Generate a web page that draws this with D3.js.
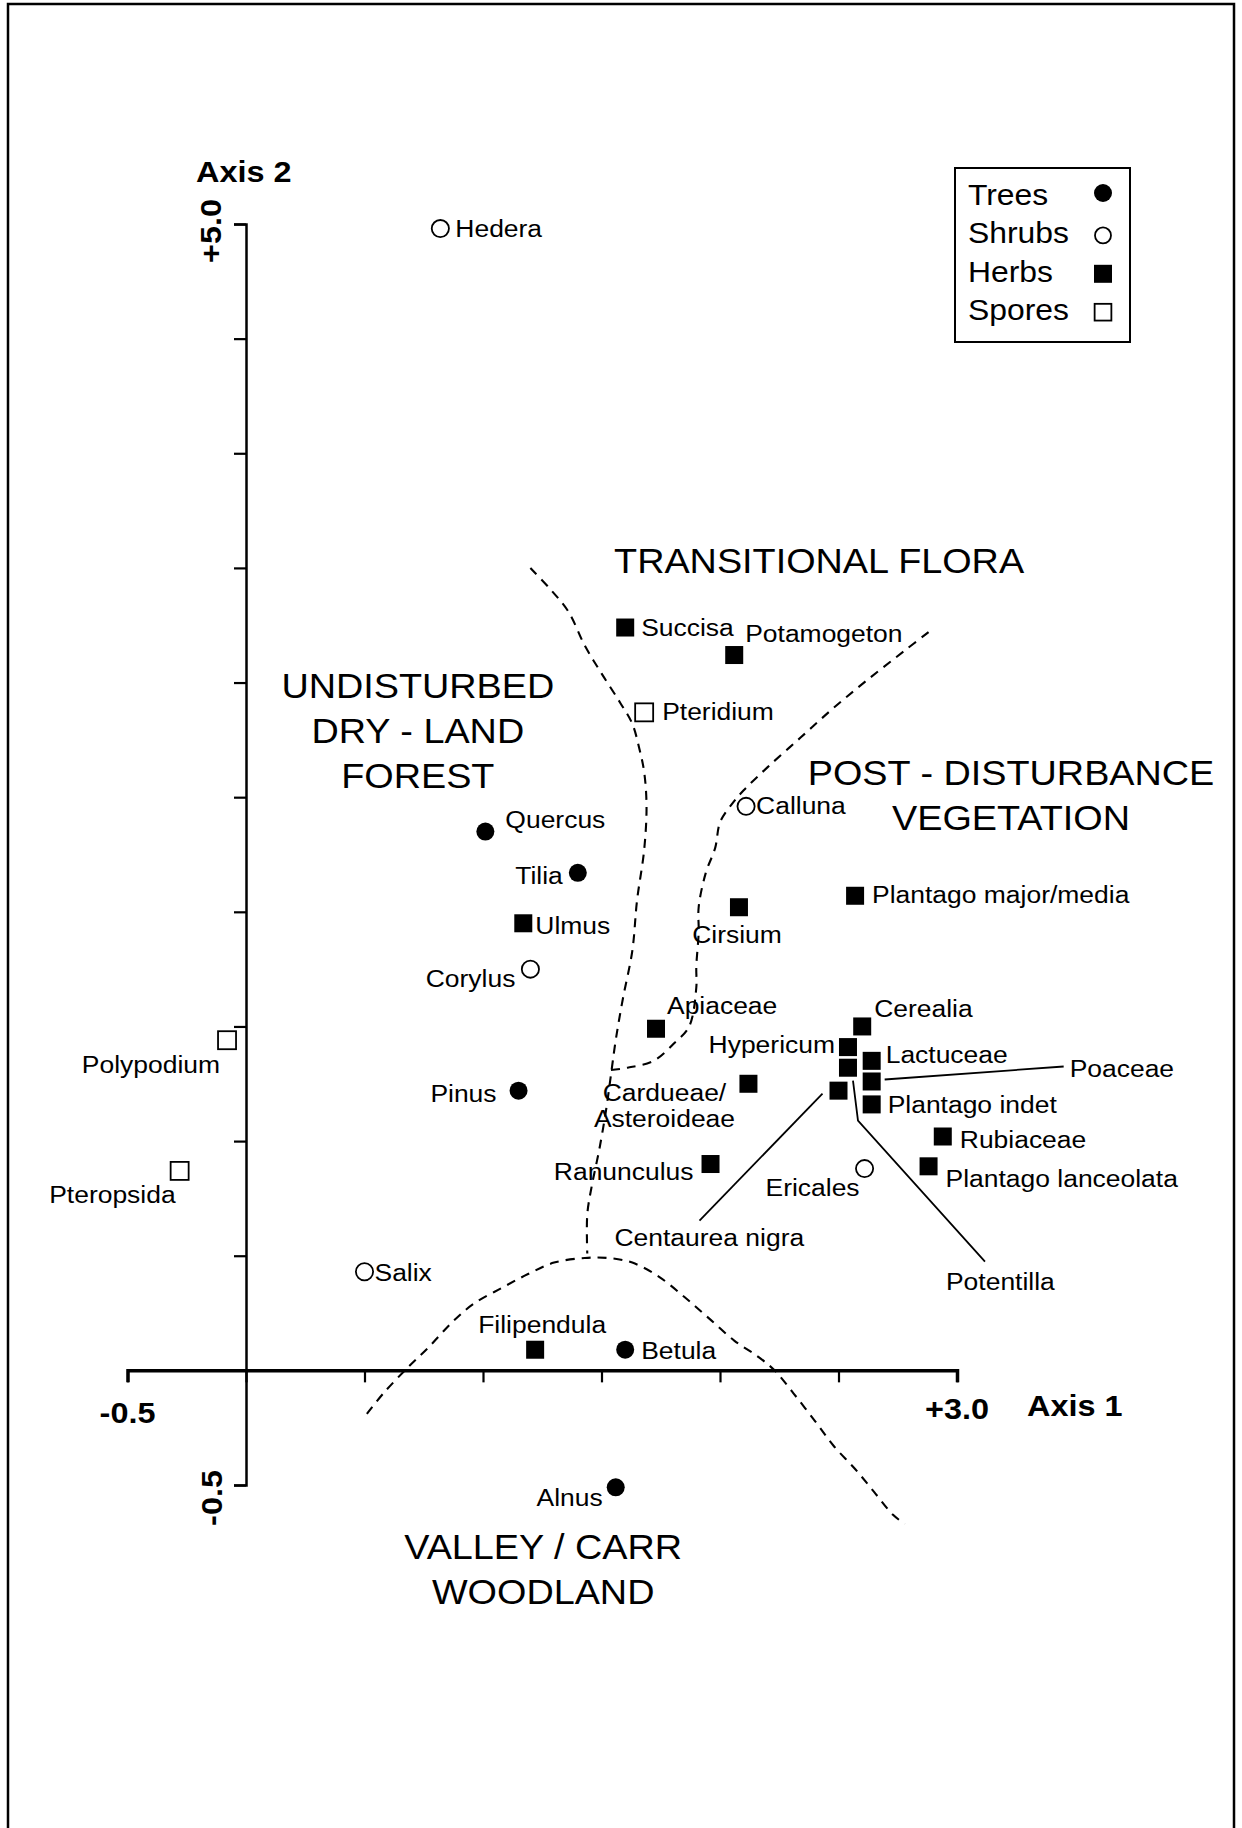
<!DOCTYPE html>
<html>
<head>
<meta charset="utf-8">
<script src="https://cdn.jsdelivr.net/npm/d3@7"></script>
<style>
  html, body { margin: 0; padding: 0; background: #fff; }
  svg { display: block; }
  text { font-family: "Liberation Sans", Arial, Helvetica, sans-serif; fill: #000; }
</style>
</head>
<body>
<svg id="chart" width="1242" height="1828"></svg>
<script>
// ---- Ordination scores of the pollen / spore taxa ----
const taxa = [
  "Hedera", "Quercus", "Tilia", "Ulmus", "Corylus", "Pinus", "Polypodium", "Pteropsida",
  "Salix", "Filipendula", "Betula", "Alnus", "Succisa", "Potamogeton", "Pteridium", "Calluna",
  "Cirsium", "Plantago major/media", "Apiaceae", "Cerealia", "Hypericum", "Lactuceae",
  "Potentilla", "Poaceae", "Centaurea nigra", "Plantago indet", "Rubiaceae",
  "Plantago lanceolata", "Ericales", "Ranunculus", "Cardueae/Asteroideae"
];
const axis1Scores = [
  0.82, 1.01, 1.40, 1.17, 1.20, 1.15, -0.08, -0.28,
  0.50, 1.22, 1.60, 1.56, 1.60, 2.06, 1.68, 2.11,
  2.08, 2.57, 1.73, 2.60, 2.54, 2.64,
  2.54, 2.64, 2.50, 2.64, 2.94,
  2.88, 2.61, 1.96, 2.12
];
const axis2Scores = [
  4.98, 2.35, 2.17, 1.95, 1.75, 1.22, 1.44, 0.87,
  0.43, 0.09, 0.09, -0.51, 3.24, 3.12, 2.87, 2.46,
  2.02, 2.07, 1.49, 1.50, 1.41, 1.35,
  1.32, 1.26, 1.22, 1.16, 1.02,
  0.89, 0.88, 0.90, 1.25
];
const taxonGroup = [
  "Shrubs", "Trees", "Trees", "Herbs", "Shrubs", "Trees", "Spores", "Spores",
  "Shrubs", "Herbs", "Trees", "Trees", "Herbs", "Herbs", "Spores", "Shrubs",
  "Herbs", "Herbs", "Herbs", "Herbs", "Herbs", "Herbs",
  "Herbs", "Herbs", "Herbs", "Herbs", "Herbs",
  "Herbs", "Shrubs", "Herbs", "Herbs"
];
const groupNames = ["Trees", "Shrubs", "Herbs", "Spores"];

// ---- Axes ----
const xTickValues = [-0.5, 0, 0.5, 1.0, 1.5, 2.0, 2.5, 3.0];
const yTickValues = [-0.5, 0, 0.5, 1.0, 1.5, 2.0, 2.5, 3.0, 3.5, 4.0, 4.5, 5.0];
const xEndLabels = ["-0.5", "+3.0"];
const yEndLabels = ["-0.5", "+5.0"];
const axisTitles = ["Axis 1", "Axis 2"];

// ---- Vegetation zone boundaries (axis units) ----
const boundaryForestEdge = [
  [1.20, 3.50], [1.29, 3.40], [1.36, 3.31], [1.43, 3.16], [1.50, 3.04], [1.58, 2.91],
  [1.63, 2.82], [1.66, 2.71], [1.68, 2.61], [1.69, 2.46], [1.68, 2.27], [1.65, 2.05],
  [1.63, 1.83], [1.59, 1.62], [1.56, 1.44], [1.54, 1.29], [1.52, 1.14], [1.49, 0.96],
  [1.46, 0.81], [1.44, 0.68], [1.44, 0.51]
];
const boundaryDisturbance = [
  [2.88, 3.22], [2.78, 3.14], [2.62, 3.01], [2.48, 2.89], [2.34, 2.76], [2.20, 2.63],
  [2.10, 2.53], [2.05, 2.47], [2.00, 2.39], [1.98, 2.28], [1.94, 2.17], [1.91, 2.02],
  [1.91, 1.91], [1.90, 1.76], [1.90, 1.67], [1.87, 1.50], [1.81, 1.43], [1.72, 1.35],
  [1.61, 1.32], [1.54, 1.31]
];
const boundaryValley = [
  [0.51, -0.19], [0.58, -0.10], [0.68, 0.01], [0.77, 0.10], [0.87, 0.21], [0.96, 0.29],
  [1.08, 0.36], [1.19, 0.42], [1.30, 0.47], [1.43, 0.49], [1.53, 0.49], [1.63, 0.47],
  [1.74, 0.41], [1.85, 0.32], [1.95, 0.23], [2.06, 0.13], [2.16, 0.06], [2.23, 0.00],
  [2.31, -0.10], [2.40, -0.22], [2.48, -0.33], [2.57, -0.43], [2.65, -0.53],
  [2.73, -0.63], [2.78, -0.67]
];
const zoneNames = [
  ["UNDISTURBED", "DRY - LAND", "FOREST"],
  ["TRANSITIONAL FLORA"],
  ["POST - DISTURBANCE", "VEGETATION"],
  ["VALLEY / CARR", "WOODLAND"]
];

// ---- Layout ----
const W = 1242, H = 1828;
const SX = 1.08;                       // slight horizontal stretch of the typeface
const FONT_LABEL = 24.5, FONT_ZONE = 35, FONT_LEGEND = 29.5, FONT_AXIS = 30;

// zone heading anchors, in axis units
const zoneAnchor = [[0.725, 2.933], [2.418, 3.478], [3.228, 2.551], [1.254, -0.823]];
const zoneLineGap = 45;

// label placement relative to each marker (px)
const labelPlace = {
  "Hedera": [15, 8, "start"],
  "Quercus": [20, -4, "start"],
  "Tilia": [-15, 11, "end"],
  "Ulmus": [12, 11, "start"],
  "Corylus": [-15, 18, "end"],
  "Pinus": [-22, 11, "end"],
  "Polypodium": [-7, 33, "end"],
  "Pteropsida": [-4, 32, "end"],
  "Salix": [10, 9, "start"],
  "Filipendula": [7, -17, "middle"],
  "Betula": [16, 9, "start"],
  "Alnus": [-13, 19, "end"],
  "Succisa": [16, 8, "start"],
  "Potamogeton": [11, -13, "start"],
  "Pteridium": [18, 8, "start"],
  "Calluna": [10, 8, "start"],
  "Cirsium": [-2, 36, "middle"],
  "Plantago major/media": [17, 7, "start"],
  "Apiaceae": [11, -15, "start"],
  "Cerealia": [12, -9, "start"],
  "Hypericum": [-13, 6, "end"],
  "Lactuceae": [14, 2, "start"],
  "Potentilla": [98, 222, "start"],
  "Poaceae": [198, -4, "start"],
  "Centaurea nigra": [-224, 155, "start"],
  "Plantago indet": [16, 9, "start"],
  "Rubiaceae": [17, 11, "start"],
  "Plantago lanceolata": [17, 21, "start"],
  "Ericales": [-5, 27, "end"],
  "Ranunculus": [-17, 16, "end"],
  "Cardueae/Asteroideae": [-84, 17, "middle"]
};
const labelLines = { "Cardueae/Asteroideae": ["Cardueae/", "Asteroideae"] };
// leader lines drawn from crowded markers to their labels (px from marker)
const leaders = {
  "Poaceae": [[13, -2], [192, -15]],
  "Centaurea nigra": [[-16, 3], [-139, 130]],
  "Potentilla": [[5, 13], [10, 53], [137, 194]]
};

const svg = d3.select("#chart").attr("viewBox", `0 0 ${W} ${H}`);
svg.append("rect").attr("width", W).attr("height", H).attr("fill", "#fff");

// outer frame (open at the foot of the page)
svg.append("path")
  .attr("d", `M8,${H + 10}V4H1234V${H + 10}`)
  .attr("fill", "none").attr("stroke", "#000").attr("stroke-width", 2.5);

const x = d3.scaleLinear().domain([-0.5, 3.0]).range([127.5, 957]);
const y = d3.scaleLinear().domain([-0.5, 5.0]).range([1485, 224]);

function addText(parent, px, py, str, size, anchor, opts = {}) {
  const rot = opts.rotate ? " rotate(-90)" : "";
  const t = parent.append("text")
    .attr("transform", `translate(${px},${py})${rot} scale(${SX},1)`)
    .attr("font-size", size)
    .attr("text-anchor", anchor)
    .text(str);
  if (opts.bold) t.attr("font-weight", "bold");
  return t;
}

// ---- axes ----
const xAxis = d3.axisBottom(x).tickValues(xTickValues).tickSize(12).tickSizeOuter(12).tickFormat("");
const yAxis = d3.axisLeft(y).tickValues(yTickValues).tickSize(12).tickSizeOuter(12).tickFormat("");

const gx = svg.append("g").attr("transform", `translate(0,${y(0)})`).call(xAxis);
gx.select(".domain").attr("stroke-width", 3.5);
gx.selectAll(".tick line").attr("stroke-width", 2.2);

const gy = svg.append("g").attr("transform", `translate(${x(0)},0)`).call(yAxis);
gy.select(".domain").attr("stroke-width", 2.5);
gy.selectAll(".tick line").attr("stroke-width", 2.2);

// end values and titles
addText(svg, x(-0.5), 1423, xEndLabels[0], FONT_AXIS, "middle", { bold: true });
addText(svg, x(3.0), 1419, xEndLabels[1], FONT_AXIS, "middle", { bold: true });
addText(svg, 1027, 1416, axisTitles[0], FONT_AXIS, "start", { bold: true });
addText(svg, 221, y(5.0) + 7, yEndLabels[1], FONT_AXIS, "middle", { bold: true, rotate: true });
addText(svg, 222, y(-0.5) + 13, yEndLabels[0], FONT_AXIS, "middle", { bold: true, rotate: true });
addText(svg, 196, 182, axisTitles[1], FONT_AXIS, "start", { bold: true });

// ---- zone boundaries ----
const boundaryLine = d3.line().x(d => x(d[0])).y(d => y(d[1])).curve(d3.curveCatmullRom.alpha(0.5));
[boundaryForestEdge, boundaryDisturbance, boundaryValley].forEach(pts => {
  svg.append("path")
    .attr("d", boundaryLine(pts))
    .attr("fill", "none").attr("stroke", "#000")
    .attr("stroke-width", 2.1).attr("stroke-dasharray", "9,7");
});

// ---- zone headings ----
zoneNames.forEach((lines, i) => {
  const [ax, ay] = zoneAnchor[i];
  lines.forEach((ln, j) => addText(svg, x(ax), y(ay) + j * zoneLineGap, ln, FONT_ZONE, "middle"));
});

// ---- markers ----
function drawSymbol(g, group, cx, cy, k = 1) {
  if (group === "Trees") {
    g.append("circle").attr("cx", cx).attr("cy", cy).attr("r", 9).attr("fill", "#000");
  } else if (group === "Shrubs") {
    g.append("circle").attr("cx", cx).attr("cy", cy).attr("r", 8.6 * k)
      .attr("fill", "#fff").attr("stroke", "#000").attr("stroke-width", 1.8);
  } else if (group === "Herbs") {
    g.append("rect").attr("x", cx - 9).attr("y", cy - 9).attr("width", 18).attr("height", 18).attr("fill", "#000");
  } else {
    const s = 18 * k;
    g.append("rect").attr("x", cx - s / 2).attr("y", cy - s / 2).attr("width", s).attr("height", s)
      .attr("fill", "#fff").attr("stroke", "#000").attr("stroke-width", 1.8);
  }
}

const points = taxa.map((name, i) => ({ name, a1: axis1Scores[i], a2: axis2Scores[i], group: taxonGroup[i] }));

const gLeaders = svg.append("g");
const gPoints = svg.append("g");
const gLabels = svg.append("g");

points.forEach(p => {
  const cx = x(p.a1), cy = y(p.a2);
  if (leaders[p.name]) {
    gLeaders.append("path")
      .attr("d", d3.line()(leaders[p.name].map(o => [cx + o[0], cy + o[1]])))
      .attr("fill", "none").attr("stroke", "#000").attr("stroke-width", 1.8);
  }
  drawSymbol(gPoints, p.group, cx, cy);
  const [dx, dy, anchor] = labelPlace[p.name];
  const lines = labelLines[p.name] || [p.name];
  lines.forEach((ln, j) => addText(gLabels, cx + dx, cy + dy + j * 26, ln, FONT_LABEL, anchor));
});

// ---- legend ----
const lg = svg.append("g");
lg.append("rect").attr("x", 955).attr("y", 168).attr("width", 175).attr("height", 174)
  .attr("fill", "#fff").attr("stroke", "#000").attr("stroke-width", 2);
groupNames.forEach((gname, i) => {
  const base = 205 + i * 38.4;
  addText(lg, 968, base, gname, FONT_LEGEND, "start");
  drawSymbol(lg, gname, 1103, base - (i === 0 ? 12 : 8), 0.93);
});
</script>
</body>
</html>
